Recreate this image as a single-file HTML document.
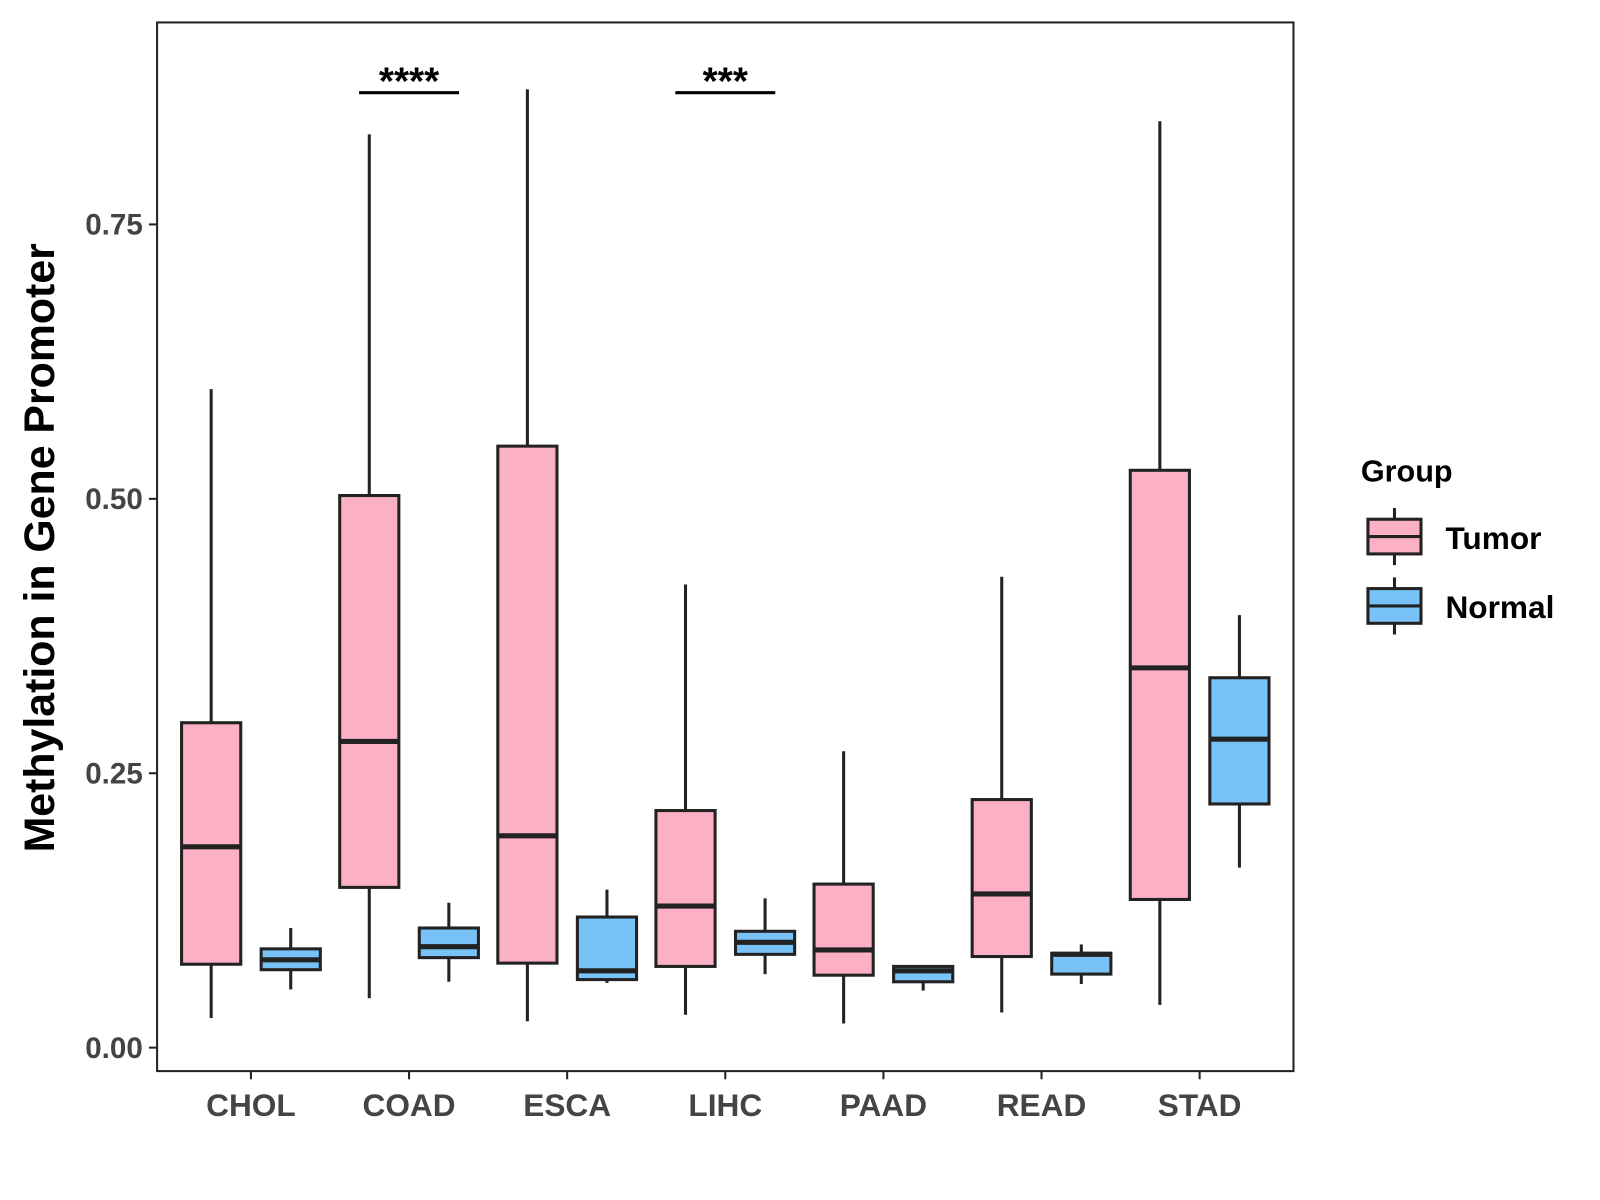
<!DOCTYPE html>
<html><head><meta charset="utf-8"><style>
html,body{margin:0;padding:0;background:#fff;}
svg{display:block;font-family:"Liberation Sans",Arial,sans-serif;}
</style></head><body>
<svg id="chart" width="1600" height="1200" viewBox="0 0 1600 1200">
<rect x="0" y="0" width="1600" height="1200" fill="#fff"/>
<g transform="scale(1.0201)">
<g id="plot"></g>
<rect x="154" y="22" width="1114" height="1028" fill="none" stroke="#222" stroke-width="2"/>
<text transform="translate(53,537) rotate(-90)" text-anchor="middle" font-size="42" font-weight="bold" fill="#000">Methylation in Gene Promoter</text>
<g>
<text x="1334" y="472" font-size="30" font-weight="bold" fill="#000">Group</text>
<g>
<line x1="1367" y1="498" x2="1367" y2="554" stroke="#222" stroke-width="3"/>
<rect x="1341" y="509" width="52" height="34" fill="#FBB1C3" stroke="#222" stroke-width="3"/>
<line x1="1341" y1="526" x2="1393" y2="526" stroke="#222" stroke-width="3"/>
<text x="1417" y="538" font-size="31" font-weight="bold" fill="#000">Tumor</text>
</g>
<g>
<line x1="1367" y1="566" x2="1367" y2="622" stroke="#222" stroke-width="3"/>
<rect x="1341" y="577" width="52" height="34" fill="#78C2F7" stroke="#222" stroke-width="3"/>
<line x1="1341" y1="594" x2="1393" y2="594" stroke="#222" stroke-width="3"/>
<text x="1417" y="606" font-size="31" font-weight="bold" fill="#000">Normal</text>
</g>
</g>
</g>
</svg>
<script>
const categories = ["CHOL","COAD","ESCA","LIHC","PAAD","READ","STAD"];
// [low, q1, median, q3, high]
const tumorStats = [
 [0.027,0.076,0.183,0.296,0.600],
 [0.045,0.146,0.279,0.503,0.832],
 [0.024,0.077,0.193,0.548,0.873],
 [0.030,0.074,0.129,0.216,0.422],
 [0.022,0.066,0.089,0.149,0.270],
 [0.032,0.083,0.140,0.226,0.429],
 [0.039,0.135,0.346,0.526,0.844]
];
const normalStats = [
 [0.053,0.071,0.080,0.090,0.109],
 [0.060,0.082,0.092,0.109,0.132],
 [0.059,0.062,0.070,0.119,0.144],
 [0.067,0.085,0.096,0.106,0.136],
 [0.052,0.060,0.070,0.074,0.075],
 [0.058,0.067,0.085,0.086,0.094],
 [0.164,0.222,0.281,0.337,0.394]
];
const yTicks = [0, 0.25, 0.5, 0.75];
const yTickLabels = ["0.00","0.25","0.50","0.75"];
const sigCategories = ["COAD","LIHC"];
const sigLabels = ["****","***"];
const sigHeight = 0.870;

const NS="http://www.w3.org/2000/svg";
const g=document.getElementById('plot');
const y=v=>1027-v*1076;
const x=i=>246+i*155;
function el(tag,attrs,parent){const e=document.createElementNS(NS,tag);for(const k in attrs)e.setAttribute(k,attrs[k]);(parent||g).appendChild(e);return e;}

yTicks.forEach((t,i)=>{
  const tk=el('line',{x1:146,x2:154,y1:y(t),y2:y(t),stroke:'#222','stroke-width':2});
  
  
  const lb=el('text',{x:140,y:y(t)+10,'text-anchor':'end','font-size':29,'font-weight':'bold',fill:'#444'});
  lb.textContent=yTickLabels[i];
  
  
});
categories.forEach((c,i)=>{
  const tk=el('line',{x1:x(i),x2:x(i),y1:1050,y2:1058,stroke:'#222','stroke-width':2});
  
  
  const lb=el('text',{x:x(i),y:1094,'text-anchor':'middle','font-size':31,'font-weight':'bold',fill:'#444'});
  lb.textContent=c;
  
  
});
function box(cx,s,fill,name){
  const bg=el('g',{});
  
  
  el('line',{x1:cx,x2:cx,y1:y(s[0]),y2:y(s[4]),stroke:'#222','stroke-width':3},bg);
  el('rect',{x:cx-29,y:y(s[3]),width:58,height:y(s[1])-y(s[3]),fill:fill,stroke:'#222','stroke-width':3},bg);
  el('line',{x1:cx-29,x2:cx+29,y1:y(s[2]),y2:y(s[2]),stroke:'#222','stroke-width':5},bg);
}
categories.forEach((c,i)=>{
  box(x(i)-39,tumorStats[i],'#FBB1C3','box-tumor-'+c.toLowerCase());
  box(x(i)+39,normalStats[i],'#78C2F7','box-normal-'+c.toLowerCase());
});
sigCategories.forEach((c,k)=>{
  const i=categories.indexOf(c);
  const ln=el('line',{x1:x(i)-49,x2:x(i)+49,y1:y(sigHeight),y2:y(sigHeight),stroke:'#000','stroke-width':3});
  
  
  const t=el('text',{x:x(i),y:y(sigHeight)+2,'text-anchor':'middle','font-size':38,'font-weight':'bold',fill:'#000'});
  t.textContent=sigLabels[k];
  
  
});
</script>
</body></html>
